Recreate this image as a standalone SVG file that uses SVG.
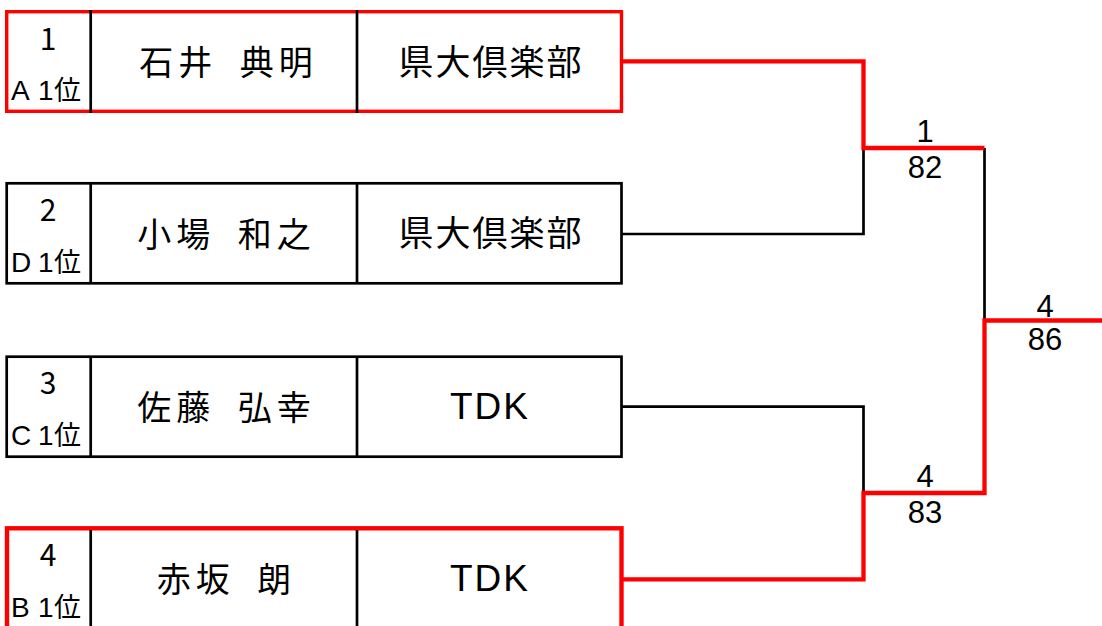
<svg xmlns="http://www.w3.org/2000/svg" width="1102" height="626" viewBox="0 0 1102 626">
<style>
.jp{font-family:"Noto Sans CJK JP","Noto Sans",sans-serif;fill:#000}
.lat{font-family:"Liberation Sans",Arial,sans-serif;font-size:28px}
.num{font-size:30px;text-anchor:middle}
.seed{font-size:27px}
.name{font-size:34px;letter-spacing:5px;word-spacing:10px;text-anchor:middle}
.club{font-size:35px;letter-spacing:2px;text-anchor:middle}
.tdk{font-family:"Liberation Sans",Arial,sans-serif;font-size:37px;letter-spacing:2px;text-anchor:middle;fill:#000}
.score{font-family:"Liberation Sans",Arial,sans-serif;font-size:31px;text-anchor:middle;fill:#000}
.box{fill:#fff;stroke:#000;stroke-width:2.7}
.boxr{fill:#fff;stroke:#f00;stroke-width:3.4}
.boxr4{fill:#fff;stroke:#f00;stroke-width:4.4}
.div{stroke:#000;stroke-width:2.7}
.lk{fill:none;stroke:#000;stroke-width:2.7}
.lr{fill:none;stroke:#f00;stroke-width:4.3}
</style>
<rect width="1102" height="626" fill="#fff"/>
<g id="connectors">
<path class="lk" d="M621.5,234 H863.5 V148"/>
<path class="lk" d="M621.5,406.7 H863.5 V493"/>
<path class="lk" d="M984.5,148 V320.5"/>
<path class="lr" d="M621.5,61.3 H863.5 V148 H984.5"/>
<path class="lr" d="M621.5,579.3 H863.5 V493 H984.5 V320.5 H1102"/>
</g>
<g id="entry1">
<rect class="boxr" x="6.7" y="11.7" width="614.8" height="99.6"/>
<line class="div" x1="90.7" y1="10" x2="90.7" y2="113"/>
<line class="div" x1="357" y1="10" x2="357" y2="113"/>
<text class="jp num" x="48" y="49.5">1</text>
<text class="jp seed" x="11 38 54" y="100"><tspan class="lat">A1</tspan>位</text>
<text class="jp name" x="228.5" y="75">石井 典明</text>
<text class="jp club" x="491" y="74.5">県大倶楽部</text>
</g>
<g id="entry2">
<rect class="box" x="6.7" y="183.3" width="614.8" height="100"/>
<line class="div" x1="90.7" y1="183.3" x2="90.7" y2="283.3"/>
<line class="div" x1="357" y1="183.3" x2="357" y2="283.3"/>
<text class="jp num" x="48" y="220.8">2</text>
<text class="jp seed" x="11 38 54" y="272"><tspan class="lat">D1</tspan>位</text>
<text class="jp name" x="226.5" y="247">小場 和之</text>
<text class="jp club" x="491" y="246.3">県大倶楽部</text>
</g>
<g id="entry3">
<rect class="box" x="6.7" y="356.7" width="614.8" height="100"/>
<line class="div" x1="90.7" y1="356.7" x2="90.7" y2="456.7"/>
<line class="div" x1="357" y1="356.7" x2="357" y2="456.7"/>
<text class="jp num" x="48" y="394.2">3</text>
<text class="jp seed" x="11 38 54" y="445.4"><tspan class="lat">C1</tspan>位</text>
<text class="jp name" x="226.5" y="420.2">佐藤 弘幸</text>
<text class="tdk" x="490" y="418.5">TDK</text>
</g>
<g id="entry4">
<rect class="boxr4" x="7" y="528.3" width="614.5" height="102"/>
<line class="div" x1="90.7" y1="530" x2="90.7" y2="626"/>
<line class="div" x1="357" y1="530" x2="357" y2="626"/>
<text class="jp num" x="48" y="565.8">4</text>
<text class="jp seed" x="11 38 54" y="617"><tspan class="lat">B1</tspan>位</text>
<text class="jp name" x="226.5" y="591.8">赤坂 朗</text>
<text class="tdk" x="490" y="590.8">TDK</text>
</g>
<g id="match1">
<text class="score" x="925" y="142">1</text>
<text class="score" x="925" y="178">82</text>
</g>
<g id="match2">
<text class="score" x="925" y="487">4</text>
<text class="score" x="925" y="523">83</text>
</g>
<g id="final">
<text class="score" x="1045" y="316.5">4</text>
<text class="score" x="1045" y="350">86</text>
</g>
</svg>
